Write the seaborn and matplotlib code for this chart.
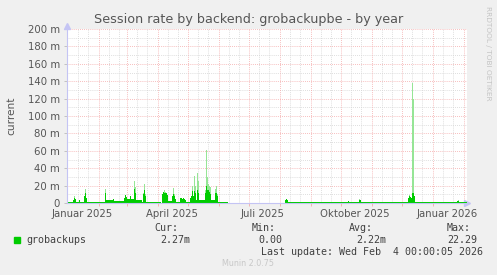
import matplotlib
matplotlib.use("Agg")
import matplotlib.pyplot as plt
import seaborn as sns
import numpy as np
import pandas as pd
import datetime as dt

# ---------------- data (values in milli-units, "m") ----------------
title = "Session rate by backend: grobackupbe - by year"
y_label = "current"
y_ticks = [0, 20, 40, 60, 80, 100, 120, 140, 160, 180, 200]
y_tick_labels = ["0", "20 m", "40 m", "60 m", "80 m", "100 m", "120 m",
                 "140 m", "160 m", "180 m", "200 m"]
start_date = dt.date(2024, 12, 31)
n_days = 400
x_tick_dates = [dt.date(2025, 1, 15), dt.date(2025, 4, 15), dt.date(2025, 7, 15),
                dt.date(2025, 10, 15), dt.date(2026, 1, 15)]
x_tick_labels = ["Januar 2025", "April 2025", "Juli 2025", "Oktober 2025", "Januar 2026"]

# low-level runs: start day, end day (inclusive), value
seg_start = [0, 9, 13, 20, 25, 33, 39, 47, 60, 64, 69, 75, 79, 101, 109, 119, 132, 144, 151, 221]
seg_end   = [5, 11, 16, 24, 32, 37, 45, 56, 62, 66, 74, 75, 93, 104, 112, 122, 137, 147, 160, 399]
seg_value = [1.5, 1.5, 1.0, 1.5, 0.6, 1.0, 3.0, 2.5, 5.0, 5.0, 3.0, 1.0, 1.0, 2.0, 1.0, 1.0, 3.0, 3.0, 1.0, 0.8]

# spikes: day, peak height (light top), solid height
spike_day = [6, 7, 8, 12, 17, 18, 19, 38, 46, 57, 58, 59, 63, 67, 68, 76, 77, 78,
             95, 96, 97, 98, 99, 100, 105, 106, 107, 108, 113, 114, 115, 116, 117, 118,
             123, 124, 125, 126, 127, 128, 129, 130, 131, 138, 139, 140, 141, 142, 143,
             148, 149, 150, 218, 219, 220, 281, 292, 293, 301, 310, 325, 330, 336,
             341, 342, 343, 344, 345, 346, 347, 361, 362, 370, 372, 375, 390, 391, 398]
spike_top = [4, 7.7, 5, 3.8, 8, 16, 6, 16, 4.5, 6, 9.6, 7, 8, 25, 18, 12, 22, 10,
             10, 13, 14.6, 12.7, 11.5, 9, 8, 17, 10, 5, 6, 6, 5, 5.8, 4.5, 4,
             6, 7.7, 20, 8, 31, 20, 3, 35, 25, 15, 61, 30, 22, 20, 18,
             16.5, 19, 10, 3, 4.6, 3, 2.7, 4.6, 3, 1, 1.5, 1.5, 1.5, 1.5,
             6, 9.6, 7, 6, 138, 120, 8, 1.5, 1.5, 1.5, 1.5, 1.5, 2.5, 3.8, 1]
spike_solid = [4, 6, 5, 3.8, 8, 11, 6, 12, 4.5, 6, 9, 7, 8, 16, 12, 10, 15, 8,
               10, 13, 12, 12, 11, 9, 8, 10, 8, 5, 6, 6, 5, 5.8, 4.5, 4,
               6, 7.7, 14, 8, 14, 12, 3, 15, 12, 12, 20, 15, 15, 13, 10,
               12, 12, 8, 3, 4.6, 3, 2.7, 3.5, 3, 1, 1.5, 1.5, 1.5, 1.5,
               6, 8, 7, 6, 12, 12, 8, 1.5, 1.5, 1.5, 1.5, 1.5, 2.5, 2.5, 1]

legend_name = "grobackups"
stat_names = ["Cur:", "Min:", "Avg:", "Max:"]
stat_values = ["2.27m", "0.00", "2.22m", "22.29"]
last_update = "Last update: Wed Feb  4 00:00:05 2026"
footer = "Munin 2.0.75"
side_text = "RRDTOOL / TOBI OETIKER"

# ---------------- build daily series ----------------
top = np.zeros(n_days)
solid = np.zeros(n_days)
for s, e, v in zip(seg_start, seg_end, seg_value):
    top[s:e + 1] = v
    solid[s:e + 1] = v
for d, t, so in zip(spike_day, spike_top, spike_solid):
    top[d] = t
    solid[d] = so
df = pd.DataFrame({"day": np.arange(n_days) + 0.5, "top": top, "solid": solid})

# ---------------- figure ----------------
sns.set_style("white")
plt.rcParams["font.family"] = ["DejaVu Sans"]
W, H = 497, 275
fig = plt.figure(figsize=(W / 100, H / 100), dpi=100, facecolor="#f0f0f0")
L, R, T, B = 67, 467, 29, 203
ax = fig.add_axes([L / W, 1 - B / H, (R - L) / W, (B - T) / H])
ax.set_facecolor("white")
ax.set_xlim(0, n_days)
ax.set_ylim(0, 200)

red = "#f4a8a8"
grey = "#d4d4d4"
dot = (0, (1, 1.5))
# horizontal grid
for v in range(10, 200, 20):
    ax.axhline(v, color=grey, lw=0.6, ls=dot, zorder=0)
for v in y_ticks[1:]:
    ax.axhline(v, color=red, lw=0.6, ls=dot, zorder=0)
# vertical grid: month starts (major), 11th & 21st (minor)
month_days, minor_days = [], []
d0 = start_date
for i in range(3, n_days - 2):
    day = d0 + dt.timedelta(days=i)
    if day.day == 1:
        month_days.append(i)
    elif day.day in (11, 21):
        minor_days.append(i)
for i in minor_days:
    ax.axvline(i, color=grey, lw=0.6, ls=dot, zorder=0)
for i in month_days:
    ax.axvline(i, color=red, lw=0.6, ls=dot, zorder=0)

green = "#00cc00"
light = "#96e596"
sns.histplot(data=df, x="day", weights="top", bins=n_days, binrange=(0, n_days),
             color=light, alpha=1, linewidth=0, edgecolor="none", ax=ax, zorder=2)
sns.histplot(data=df, x="day", weights="solid", bins=n_days, binrange=(0, n_days),
             color=green, alpha=1, linewidth=0, edgecolor="none", ax=ax, zorder=3)
ax.set_xlim(0, n_days)
ax.set_ylim(0, 200)
ax.set_xlabel("")
ax.set_ylabel("")

axis_col = "#c4c4f4"
for s in ["top", "right"]:
    ax.spines[s].set_visible(False)
for s in ["left", "bottom"]:
    ax.spines[s].set_color(axis_col)
    ax.spines[s].set_linewidth(0.8)
    ax.spines[s].set_zorder(4)
ax.plot([1.0], [0], marker=">", ms=5, color=axis_col, transform=ax.transAxes, clip_on=False)
ax.plot([0], [1.02], marker="^", ms=5, color=axis_col, transform=ax.transAxes, clip_on=False)

txt = "#555555"
ax.set_yticks(y_ticks, y_tick_labels)
ax.tick_params(axis="y", length=2, width=0.6, color="#bbbbbb", pad=3,
               labelsize=7.3, labelcolor=txt, left=True)
x_tick_pos = [(d - start_date).days for d in x_tick_dates]
ax.set_xticks(x_tick_pos, x_tick_labels)
ax.tick_params(axis="x", length=0, pad=4.5, labelsize=7.3, labelcolor=txt, bottom=True)
ax.set_xticks(month_days, minor=True)
ax.tick_params(axis="x", which="minor", length=2, width=0.6, color=red, bottom=True)
ax.grid(False)

def px(x, y):
    return x / W, 1 - y / H

fig.text(*px(249, 19), title, ha="center", va="center", fontsize=9.2, color=txt)
fig.text(*px(11, 116), y_label, ha="center", va="center", rotation=90, fontsize=7.6, color=txt)
fig.text(*px(488, 53), side_text, ha="center", va="center", rotation=270,
         fontsize=5.3, color="#c4c4c4")

mono = ["DejaVu Sans Mono"]
leg = "#404040"
fig.patches.append(plt.Rectangle(px(14, 243), 6 / W, 6 / H, transform=fig.transFigure,
                                 color=green, figure=fig))
fig.text(*px(26, 240), legend_name, ha="left", va="center", fontsize=7.2, family=mono, color=leg)
stat_x = [154, 252, 349, 447]
val_x = [160, 258, 356, 447]
for sx, sn in zip(stat_x, stat_names):
    fig.text(*px(sx, 228), sn, ha="left", va="center", fontsize=7.2, family=mono, color=leg)
for vx, sv in zip(val_x, stat_values):
    fig.text(*px(vx, 240), sv, ha="left", va="center", fontsize=7.2, family=mono, color=leg)
fig.text(*px(483, 252), last_update, ha="right", va="center", fontsize=7.2, family=mono, color=leg)
fig.text(*px(248, 263), footer, ha="center", va="center", fontsize=5.8, color="#c8c8c8")

fig.savefig("out.png", dpi=100, facecolor=fig.get_facecolor())
